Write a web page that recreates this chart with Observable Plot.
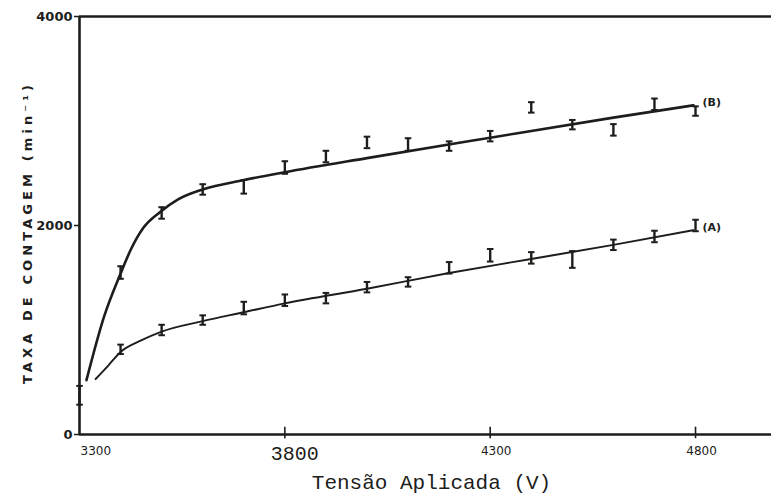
<!DOCTYPE html>
<html><head><meta charset="utf-8">
<script src="https://cdn.jsdelivr.net/npm/d3@7"></script>
<script src="https://cdn.jsdelivr.net/npm/@observablehq/plot@0.6"></script>
<style>
body{margin:0;background:#fff;}
#chart svg{display:block;}
</style>
</head><body><div id="chart"></div>
<script>
// ---- data ----
const voltageB = [3300,3400,3500,3600,3700,3800,3900,4000,4100,4200,4300,4400,4500,4600,4700,4800];
const countsB  = [375,1550,2120,2345,2370,2555,2660,2795,2775,2760,2855,3130,2965,2915,3160,3095];
const errB     = [90,60,55,50,65,60,55,55,60,45,50,50,45,55,55,45];

const voltageA = [3400,3500,3600,3700,3800,3900,4000,4100,4200,4300,4400,4500,4600,4700,4800];
const countsA  = [815,1000,1095,1210,1285,1305,1410,1460,1595,1715,1690,1675,1815,1895,2000];
const errA     = [45,50,45,60,55,50,50,45,55,60,55,80,50,55,55];

// hand-drawn fitted curves
const fitBVoltage = [3317,3360,3400,3425,3456,3495,3540,3600,3700,3800,4000,4300,4600,4795];
const fitBCounts  = [520,1130,1540,1770,1980,2125,2250,2345,2435,2510,2645,2840,3032,3150];
const fitAVoltage = [3339,3370,3400,3450,3500,3600,3700,3800,4000,4200,4400,4600,4795];
const fitACounts  = [530,660,790,900,985,1085,1170,1255,1395,1545,1680,1815,1955];

const yTicks = [0,2000,4000];
const xTicks = [3300,3800,4300,4800];
const yLabel = "TAXA DE CONTAGEM (min⁻¹)";
const xLabel = "Tensão Aplicada (V)";
const seriesNames = ["(B)","(A)"];

// ---- build tables ----
const ptsB = voltageB.map((v,i)=>({v, c: countsB[i], e: errB[i]}));
const ptsA = voltageA.map((v,i)=>({v, c: countsA[i], e: errA[i]}));
const pts = ptsB.concat(ptsA);
const fitB = fitBVoltage.map((v,i)=>({v, c: fitBCounts[i]}));
const fitA = fitAVoltage.map((v,i)=>({v, c: fitACounts[i]}));
const ends = [
  {v: fitB[fitB.length-1].v, c: fitB[fitB.length-1].c, t: seriesNames[0]},
  {v: fitA[fitA.length-1].v, c: fitA[fitA.length-1].c, t: seriesNames[1]}
];

const ink = "#1d1d1b";
const cap = 8; // half cap width in volts

const chart = Plot.plot({
  width: 771, height: 497,
  marginLeft: 79, marginRight: 0, marginTop: 16, marginBottom: 63,
  style: {background: "#fff", color: ink},
  x: {domain: [3300, 4985], axis: null},
  y: {domain: [0, 4000], axis: null},
  marks: [
    // frame: axes and top border
    Plot.ruleY([0], {stroke: ink, strokeWidth: 2.6}),
    Plot.ruleY([4000], {stroke: ink, strokeWidth: 2.4}),
    Plot.ruleX([3300], {stroke: ink, strokeWidth: 2.6}),
    // y axis ticks and labels
    Plot.axisY({ticks: yTicks, tickFormat: d=>String(d), tickSize: 5, tickPadding: 2, fontSize: 13, fontWeight: "bold",
      fontFamily: "DejaVu Sans", label: null, stroke: ink, strokeWidth: 1.5}),
    // x ticks
    Plot.ruleX(xTicks.slice(1), {y1: -40, y2: 70, stroke: ink, strokeWidth: 1.6}),
    // x tick labels
    Plot.text(xTicks.slice(0,1), {x: d=>d, y: 0, text: d=>String(d), dy: 17, dx: 1, textAnchor: "start",
      fontSize: 12, fontFamily: "DejaVu Sans", fill: ink}),
    Plot.text(xTicks.slice(1,2), {x: d=>d, y: 0, text: d=>String(d), dy: 19, dx: 10,
      fontSize: 20, fontFamily: "Liberation Mono", fill: ink}),
    Plot.text(xTicks.slice(2), {x: d=>d, y: 0, text: d=>String(d), dy: 17, dx: 6,
      fontSize: 12, fontFamily: "DejaVu Sans", fill: ink}),
    // axis titles
    Plot.text([xLabel], {frameAnchor: "bottom", text: d=>d, dy: 54, dx: 6, textAnchor: "middle",
      fontSize: 21, fontFamily: "Liberation Mono", fill: ink}),
    Plot.text([yLabel], {frameAnchor: "left", text: d=>d, rotate: -90, dx: -52, dy: 7, textAnchor: "middle",
      fontSize: 13, fontWeight: "bold", fontFamily: "DejaVu Sans", fill: ink, className: "ytitle"}),
    // fitted curves
    Plot.line(fitB, {x: "v", y: "c", curve: "monotone-x", stroke: ink, strokeWidth: 2.6}),
    Plot.line(fitA, {x: "v", y: "c", curve: "monotone-x", stroke: ink, strokeWidth: 1.9}),
    // error bars
    Plot.ruleX(pts, {x: "v", y1: d=>d.c - d.e, y2: d=>d.c + d.e, stroke: ink, strokeWidth: 2.4}),
    Plot.link(pts, {x1: d=>d.v - cap, x2: d=>d.v + cap, y1: d=>d.c + d.e, y2: d=>d.c + d.e, stroke: ink, strokeWidth: 2}),
    Plot.link(pts, {x1: d=>d.v - cap, x2: d=>d.v + cap, y1: d=>d.c - d.e, y2: d=>d.c - d.e, stroke: ink, strokeWidth: 2}),
    // series labels
    Plot.text(ends, {x: "v", y: "c", text: "t", dx: 9, dy: -3, textAnchor: "start",
      fontSize: 11, fontWeight: "bold", fontFamily: "DejaVu Sans", fill: ink})
  ]
});
document.getElementById("chart").appendChild(chart);
// spread the y title letters like the typewriter original
d3.select(chart).selectAll(".ytitle text")
  .style("letter-spacing", "4.1px");
</script>
</body></html>
